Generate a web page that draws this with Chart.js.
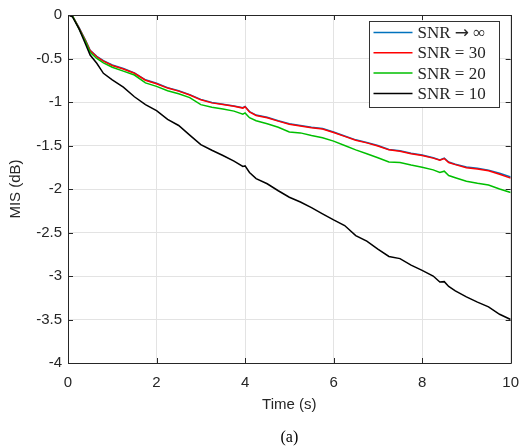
<!DOCTYPE html>
<html>
<head>
<meta charset="utf-8">
<script src="https://cdn.jsdelivr.net/npm/chart.js@4.4.1/dist/chart.umd.min.js"></script>
<style>
  html, body { margin: 0; padding: 0; background: #fff; }
  #wrap { width: 530px; height: 447px; position: relative; }
</style>
</head>
<body>
<div id="wrap"><canvas id="mis-chart"></canvas></div>
<script>
// time axis (s) and MIS (dB)
const time = [0, 0.1, 0.25, 0.4, 0.5, 0.65, 0.8, 1.0, 1.25, 1.5, 1.75, 2.0, 2.25, 2.5, 2.75, 3.0, 3.25, 3.5, 3.75, 3.95, 4.0, 4.1, 4.25, 4.5, 4.75, 5.0, 5.25, 5.5, 5.75, 6.0, 6.25, 6.5, 6.75, 7.0, 7.25, 7.5, 7.75, 8.0, 8.25, 8.4, 8.5, 8.6, 8.75, 9.0, 9.25, 9.5, 9.75, 10];

const snrInf = [0, -0.01, -0.145, -0.295, -0.405, -0.475, -0.525, -0.575, -0.615, -0.665, -0.745, -0.785, -0.835, -0.87, -0.915, -0.97, -1.005, -1.025, -1.045, -1.065, -1.05, -1.11, -1.15, -1.175, -1.215, -1.25, -1.27, -1.29, -1.305, -1.345, -1.39, -1.435, -1.465, -1.5, -1.545, -1.56, -1.59, -1.61, -1.64, -1.665, -1.645, -1.69, -1.715, -1.748, -1.762, -1.783, -1.82, -1.862];
const snr30 = [0, -0.01, -0.15, -0.30, -0.41, -0.48, -0.53, -0.58, -0.62, -0.67, -0.75, -0.79, -0.84, -0.875, -0.92, -0.975, -1.01, -1.03, -1.05, -1.07, -1.055, -1.115, -1.155, -1.18, -1.22, -1.255, -1.275, -1.295, -1.31, -1.35, -1.395, -1.44, -1.47, -1.505, -1.55, -1.567, -1.595, -1.615, -1.645, -1.67, -1.65, -1.695, -1.72, -1.755, -1.77, -1.79, -1.83, -1.875];
const snr20 = [0, -0.01, -0.16, -0.31, -0.43, -0.50, -0.55, -0.60, -0.645, -0.69, -0.78, -0.82, -0.87, -0.905, -0.95, -1.03, -1.06, -1.08, -1.105, -1.14, -1.125, -1.18, -1.215, -1.25, -1.29, -1.345, -1.355, -1.385, -1.41, -1.45, -1.50, -1.55, -1.595, -1.64, -1.69, -1.695, -1.725, -1.75, -1.78, -1.81, -1.795, -1.845, -1.87, -1.91, -1.935, -1.955, -2.0, -2.04];
const snr10 = [0, -0.02, -0.16, -0.34, -0.46, -0.555, -0.67, -0.745, -0.83, -0.94, -1.03, -1.10, -1.20, -1.27, -1.38, -1.49, -1.555, -1.615, -1.68, -1.74, -1.735, -1.81, -1.88, -1.94, -2.02, -2.095, -2.15, -2.215, -2.285, -2.355, -2.42, -2.535, -2.60, -2.69, -2.775, -2.80, -2.875, -2.935, -3.0, -3.07, -3.065, -3.12, -3.17, -3.24, -3.30, -3.355, -3.44, -3.50];

const seriesLabels = ['SNR \u2192 \u221E', 'SNR = 30', 'SNR = 20', 'SNR = 10'];
const seriesColors = ['#0072BD', '#FF0000', '#00BF00', '#000000'];
const xTicks = [0, 2, 4, 6, 8, 10];
const yTicks = [0, -0.5, -1, -1.5, -2, -2.5, -3, -3.5, -4];

const axisColor = '#262626';
const gridColor = '#e3e3e3';
const sansFont = "'Liberation Sans', Arial, sans-serif";
const serifFont = "'Liberation Serif', 'Times New Roman', serif";

function toPoints(values) {
    return time.map((t, i) => ({ x: t, y: values[i] }));
}

// legend text: arrow drawn with a wider glyph so it looks like the TeX one
function drawLabel(ctx, text, x, y) {
    const parts = text.split('\u2192');
    let cx = x;
    parts.forEach((part, i) => {
        if (i > 0) {
            ctx.font = '17px "DejaVu Sans", sans-serif';
            ctx.fillText('\u2192', cx, y);
            cx += ctx.measureText('\u2192').width;
        }
        ctx.font = '17px ' + serifFont;
        ctx.fillText(part, cx, y);
        cx += ctx.measureText(part).width;
    });
}

// box around plot + inward ticks on all sides (MATLAB style), legend, caption
const matlabAxes = {
    id: 'matlabAxes',
    afterDatasetsDraw(chart) {
        const { ctx, chartArea: a, scales } = chart;
        const tl = 5;
        ctx.save();
        ctx.strokeStyle = axisColor;
        ctx.lineWidth = 1;
        ctx.beginPath();
        ctx.rect(Math.round(a.left) + 0.5, Math.round(a.top) + 0.5, Math.round(a.right - a.left), Math.round(a.bottom - a.top));
        xTicks.forEach(v => {
            const x = Math.round(scales.x.getPixelForValue(v)) + 0.5;
            ctx.moveTo(x, a.bottom); ctx.lineTo(x, a.bottom - tl);
            ctx.moveTo(x, a.top); ctx.lineTo(x, a.top + tl);
        });
        yTicks.forEach(v => {
            const y = Math.round(scales.y.getPixelForValue(v)) + 0.5;
            ctx.moveTo(a.left, y); ctx.lineTo(a.left + tl, y);
            ctx.moveTo(a.right, y); ctx.lineTo(a.right - tl, y);
        });
        ctx.stroke();

        // legend box, top right inside the axes
        const bx = 369.5, by = 21.5, bw = 130, bh = 86;
        ctx.fillStyle = '#fff';
        ctx.fillRect(bx, by, bw, bh);
        ctx.strokeStyle = '#333';
        ctx.strokeRect(bx, by, bw, bh);
        ctx.textBaseline = 'middle';
        ctx.textAlign = 'left';
        chart.data.datasets.forEach((ds, i) => {
            const y = by + 11 + i * 20.3;
            ctx.strokeStyle = ds.borderColor;
            ctx.lineWidth = 1.5;
            ctx.beginPath();
            ctx.moveTo(bx + 4, y); ctx.lineTo(bx + 43, y);
            ctx.stroke();
            ctx.fillStyle = axisColor;
            drawLabel(ctx, ds.label, bx + 48, y + 1);
        });
        ctx.restore();
    },
    afterDraw(chart) {
        const { ctx, chartArea: a } = chart;
        ctx.save();
        ctx.font = '16px ' + serifFont;
        ctx.fillStyle = '#000';
        ctx.textAlign = 'center';
        ctx.textBaseline = 'middle';
        ctx.fillText('(a)', (a.left + a.right) / 2, 438);
        ctx.restore();
    }
};

const datasets = [snrInf, snr30, snr20, snr10].map((vals, i) => ({
    label: seriesLabels[i],
    data: toPoints(vals),
    borderColor: seriesColors[i],
    backgroundColor: seriesColors[i],
    borderWidth: 1.5,
    pointRadius: 0,
    tension: 0,
    fill: false,
    order: 4 - i
}));

const ctx = document.getElementById('mis-chart').getContext('2d');
new Chart(ctx, {
    type: 'line',
    data: { datasets: datasets },
    options: {
        responsive: true,
        maintainAspectRatio: false,
        animation: false,
        devicePixelRatio: 1,
        layout: { padding: { top: 10, right: 10.5, bottom: 0, left: 0 } },
        plugins: {
            legend: { display: false },
            tooltip: { enabled: false }
        },
        scales: {
            x: {
                type: 'linear',
                min: 0,
                max: 10,
                afterFit: s => { s.height = 84; },
                afterBuildTicks: s => { s.ticks = xTicks.map(v => ({ value: v })); },
                grid: { color: gridColor, drawTicks: false },
                border: { display: false },
                ticks: {
                    padding: 11,
                    color: axisColor,
                    font: { family: sansFont, size: 15 },
                    maxRotation: 0,
                    callback: v => String(v)
                },
                title: {
                    display: true,
                    text: 'Time (s)',
                    color: axisColor,
                    font: { family: sansFont, size: 15 },
                    padding: { top: 33, bottom: 33 }
                }
            },
            y: {
                type: 'linear',
                min: -4,
                max: 0,
                afterFit: s => { s.width = 68; },
                afterBuildTicks: s => { s.ticks = yTicks.map(v => ({ value: v })); },
                grid: { color: gridColor, drawTicks: false },
                border: { display: false },
                ticks: {
                    padding: 6,
                    color: axisColor,
                    font: { family: sansFont, size: 15 },
                    callback: v => String(v)
                },
                title: {
                    display: true,
                    text: 'MIS (dB)',
                    color: axisColor,
                    font: { family: sansFont, size: 15 },
                    padding: { top: 7, bottom: 7 }
                }
            }
        }
    },
    plugins: [matlabAxes]
});
</script>
</body>
</html>
